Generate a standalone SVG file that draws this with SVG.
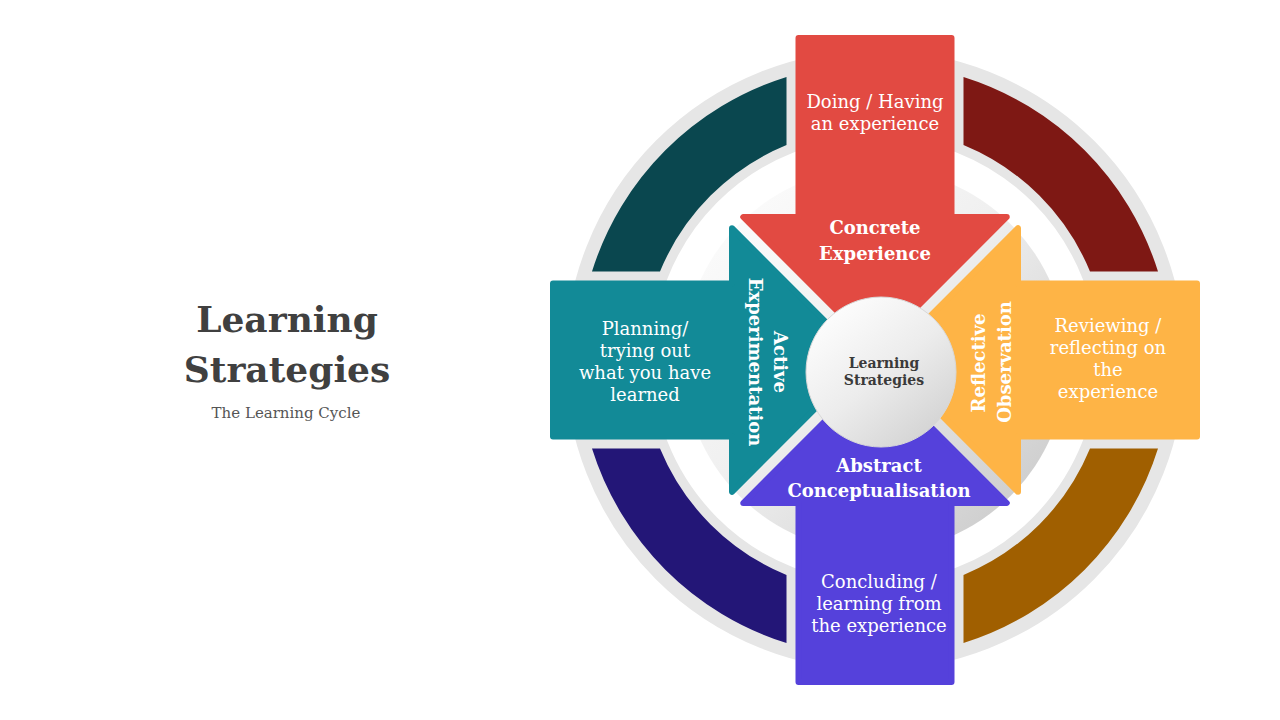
<svg xmlns="http://www.w3.org/2000/svg" width="1280" height="720" viewBox="0 0 1280 720">
  <defs>
    <linearGradient id="discGrad" x1="0" y1="0" x2="1" y2="1">
      <stop offset="0" stop-color="#ffffff"/>
      <stop offset="0.45" stop-color="#f0f0f0"/>
      <stop offset="1" stop-color="#c4c4c4"/>
    </linearGradient>
    <linearGradient id="hubGrad" x1="0.15" y1="0.1" x2="0.85" y2="0.95">
      <stop offset="0" stop-color="#fdfdfd"/>
      <stop offset="0.5" stop-color="#ececec"/>
      <stop offset="1" stop-color="#d2d2d2"/>
    </linearGradient>
    <style>
      .serif { font-family: "DejaVu Serif", "Liberation Serif", serif; }
      .body { font-size: 18px; fill: #ffffff; text-anchor: middle; }
      .head { font-size: 18px; font-weight: bold; fill: #ffffff; text-anchor: middle; }
      .arrow { stroke-width: 6; stroke-linejoin: round; }
    </style>
  </defs>

  <rect x="0" y="0" width="1280" height="720" fill="#ffffff"/>

  <g id="title" class="serif">
    <text x="287" y="332" font-size="36" font-weight="bold" fill="#404040" text-anchor="middle">Learning</text>
    <text x="287" y="382" font-size="36" font-weight="bold" fill="#404040" text-anchor="middle">Strategies</text>
    <text x="286" y="418" font-size="15" fill="#555555" text-anchor="middle">The Learning Cycle</text>
  </g>

  <g id="ring">
    <circle cx="875" cy="360" r="266.5" fill="none" stroke="#e6e6e6" stroke-width="87"/>
    <path d="M 786.5 77 A 296.5 296.5 0 0 0 592 271.5 L 660 271.5 A 232.5 232.5 0 0 1 786.5 145 Z" fill="#0a474f"/>
    <path d="M 963.5 77 A 296.5 296.5 0 0 1 1158 271.5 L 1090 271.5 A 232.5 232.5 0 0 0 963.5 145 Z" fill="#7e1814"/>
    <path d="M 1158 448.5 A 296.5 296.5 0 0 1 963.5 643 L 963.5 575 A 232.5 232.5 0 0 0 1090 448.5 Z" fill="#a05f00"/>
    <path d="M 786.5 643 A 296.5 296.5 0 0 1 592 448.5 L 660 448.5 A 232.5 232.5 0 0 0 786.5 575 Z" fill="#231677"/>
    <circle cx="875" cy="360" r="192" fill="url(#discGrad)"/>
  </g>

  <g id="node-concrete" class="serif">
    <path class="arrow" d="M 798.5 38 L 951.5 38 L 951.5 217 L 1006.76 217 L 875 348.76 L 743.24 217 L 798.5 217 Z" fill="#e24a42" stroke="#e24a42"/>
    <text class="body" x="875" y="108">Doing / Having</text>
    <text class="body" x="875" y="130">an experience</text>
    <text class="head" x="875" y="234">Concrete</text>
    <text class="head" x="875" y="260">Experience</text>
  </g>

  <g id="node-reflective" class="serif">
    <path class="arrow" d="M 1197 283.5 L 1197 436.5 L 1018 436.5 L 1018 491.76 L 886.24 360 L 1018 228.24 L 1018 283.5 Z" fill="#feb446" stroke="#feb446"/>
    <text class="body" x="1108" y="332">Reviewing /</text>
    <text class="body" x="1108" y="354">reflecting on</text>
    <text class="body" x="1108" y="376">the</text>
    <text class="body" x="1108" y="398">experience</text>
    <text class="head" transform="translate(985 363) rotate(-90)" x="0" y="0">Reflective</text>
    <text class="head" transform="translate(1011 362) rotate(-90)" x="0" y="0">Observation</text>
  </g>

  <g id="node-abstract" class="serif">
    <path class="arrow" d="M 951.5 682 L 798.5 682 L 798.5 503 L 743.24 503 L 875 371.24 L 1006.76 503 L 951.5 503 Z" fill="#5541db" stroke="#5541db"/>
    <text class="head" x="879" y="472">Abstract</text>
    <text class="head" x="879" y="497">Conceptualisation</text>
    <text class="body" x="879" y="588">Concluding /</text>
    <text class="body" x="879" y="610">learning from</text>
    <text class="body" x="879" y="632">the experience</text>
  </g>

  <g id="node-active" class="serif">
    <path class="arrow" d="M 553 436.5 L 553 283.5 L 732 283.5 L 732 228.24 L 863.76 360 L 732 491.76 L 732 436.5 Z" fill="#128a97" stroke="#128a97"/>
    <text class="body" x="645" y="335">Planning/</text>
    <text class="body" x="645" y="357">trying out</text>
    <text class="body" x="645" y="379">what you have</text>
    <text class="body" x="645" y="401">learned</text>
    <text class="head" transform="translate(774 362) rotate(90)" x="0" y="0">Active</text>
    <text class="head" transform="translate(749 362) rotate(90)" x="0" y="0">Experimentation</text>
  </g>

  <g id="hub" class="serif">
    <circle cx="881" cy="372" r="75" fill="url(#hubGrad)" stroke="#d8d8d8" stroke-width="1"/>
    <text x="884" y="368" font-size="14" font-weight="bold" fill="#3a3a3a" text-anchor="middle">Learning</text>
    <text x="884" y="385" font-size="14" font-weight="bold" fill="#3a3a3a" text-anchor="middle">Strategies</text>
  </g>

  <g id="connectors"></g>
</svg>
